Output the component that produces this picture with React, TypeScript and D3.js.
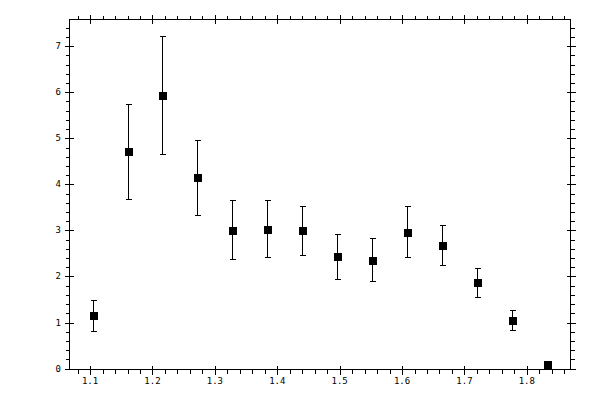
import { useEffect, useRef } from 'react';
import * as d3 from 'd3';

// measured points (x, y) with lower/upper error bounds
const xValues = [1.104, 1.16, 1.216, 1.272, 1.328, 1.384, 1.44, 1.496, 1.552, 1.608, 1.664, 1.72, 1.776, 1.832];
const yValues = [1.16, 4.72, 5.93, 4.15, 3.01, 3.03, 3.01, 2.44, 2.36, 2.97, 2.68, 1.88, 1.05, 0.1];
const yUpper = [1.48, 5.74, 7.22, 4.97, 3.65, 3.65, 3.54, 2.92, 2.83, 3.53, 3.12, 2.18, 1.27, 0.1];
const yLower = [0.81, 3.68, 4.65, 3.33, 2.38, 2.42, 2.47, 1.94, 1.9, 2.42, 2.25, 1.55, 0.83, 0.1];

const xTicks = [1.1, 1.2, 1.3, 1.4, 1.5, 1.6, 1.7, 1.8];
const yTicks = [0, 1, 2, 3, 4, 5, 6, 7];

export default function App() {
  const svgRef = useRef<SVGSVGElement>(null);

  useEffect(() => {
    if (!svgRef.current) return;
    const width = 600;
    const height = 400;
    const left = 69.5;
    const right = 570.5;
    const top = 19.5;
    const bottom = 369.5;

    const svg = d3.select(svgRef.current);
    svg.selectAll('*').remove();
    svg.attr('width', width).attr('height', height);

    const x = d3.scaleLinear().domain([1.067, 1.87]).range([left, right]);
    const y = d3.scaleLinear().domain([-0.02, 7.58]).range([bottom, top]);

    const g = svg.append('g').attr('shape-rendering', 'crispEdges').attr('stroke', '#000');

    // frame
    g.append('rect')
      .attr('x', left)
      .attr('y', top)
      .attr('width', right - left)
      .attr('height', bottom - top)
      .attr('fill', 'none')
      .attr('stroke-width', 1);

    const xMinor = d3.range(54, 94).map((i) => i * 0.02).filter((v) => v > 1.067 && v < 1.87);
    const yMinor = d3.range(0, 38).map((i) => i * 0.2).filter((v) => v < 7.58);

    // minor ticks, outside only
    xMinor.forEach((v) => {
      const px = Math.round(x(v)) + 0.5;
      g.append('line').attr('x1', px).attr('x2', px).attr('y1', bottom).attr('y2', bottom + 4);
      g.append('line').attr('x1', px).attr('x2', px).attr('y1', top).attr('y2', top - 4);
    });
    yMinor.forEach((v) => {
      const py = Math.round(y(v)) + 0.5;
      g.append('line').attr('x1', left).attr('x2', left - 4).attr('y1', py).attr('y2', py);
      g.append('line').attr('x1', right).attr('x2', right + 4).attr('y1', py).attr('y2', py);
    });

    // major ticks cross the axis
    xTicks.forEach((v) => {
      const px = Math.round(x(v)) + 0.5;
      g.append('line').attr('x1', px).attr('x2', px).attr('y1', bottom - 4).attr('y2', bottom + 5);
      g.append('line').attr('x1', px).attr('x2', px).attr('y1', top - 5).attr('y2', top + 4);
    });
    yTicks.forEach((v) => {
      const py = Math.round(y(v)) + 0.5;
      g.append('line').attr('x1', left - 5).attr('x2', left + 4).attr('y1', py).attr('y2', py);
      g.append('line').attr('x1', right - 4).attr('x2', right + 5).attr('y1', py).attr('y2', py);
    });

    // tick labels
    const labels = svg.append('g').attr('font-family', 'DejaVu Sans Mono').attr('font-size', 9).attr('fill', '#000');
    xTicks.forEach((v) => {
      labels
        .append('text')
        .attr('x', x(v))
        .attr('y', 384)
        .attr('text-anchor', 'middle')
        .text(d3.format('.1f')(v));
    });
    yTicks.forEach((v) => {
      labels
        .append('text')
        .attr('x', 61)
        .attr('y', y(v) + 3)
        .attr('text-anchor', 'end')
        .text(String(v));
    });

    // error bars
    const bars = svg.append('g').attr('stroke', '#000').attr('stroke-width', 1).attr('shape-rendering', 'crispEdges');
    xValues.forEach((xv, i) => {
      if (yUpper[i] === yLower[i]) return;
      const px = Math.round(x(xv)) + 0.5;
      const y1 = Math.round(y(yUpper[i])) + 0.5;
      const y2 = Math.round(y(yLower[i])) + 0.5;
      bars.append('line').attr('x1', px).attr('x2', px).attr('y1', y1).attr('y2', y2);
      bars.append('line').attr('x1', px - 3).attr('x2', px + 3).attr('y1', y1).attr('y2', y1);
      bars.append('line').attr('x1', px - 3).attr('x2', px + 3).attr('y1', y2).attr('y2', y2);
    });

    // square markers
    const size = 8;
    svg
      .append('g')
      .selectAll('rect')
      .data(xValues)
      .join('rect')
      .attr('x', (d) => Math.round(x(d)) + 0.5 - size / 2)
      .attr('y', (_d, i) => Math.round(y(yValues[i])) + 0.5 - size / 2)
      .attr('width', size)
      .attr('height', size)
      .attr('fill', '#000')
      .attr('shape-rendering', 'crispEdges');
  }, []);

  return (
    <svg
      ref={svgRef}
      style={{ position: 'fixed', left: 0, top: 0, background: '#fff' }}
    />
  );
}
